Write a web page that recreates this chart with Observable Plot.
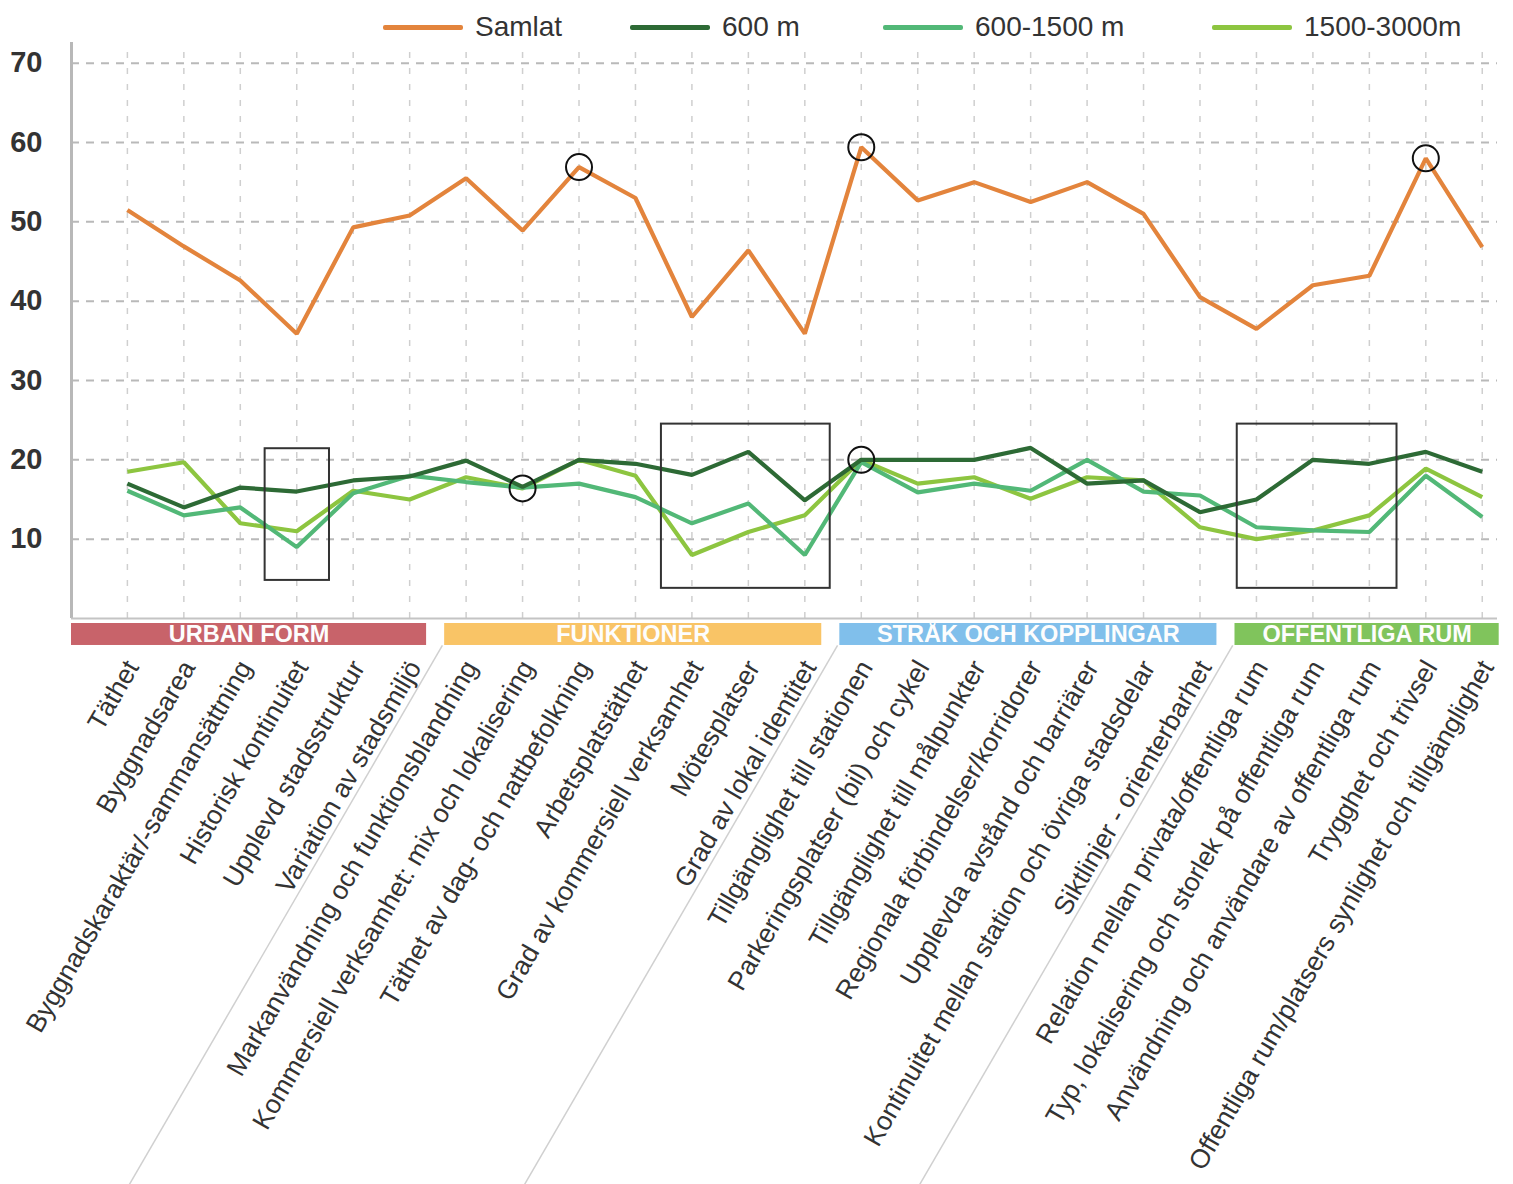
<!DOCTYPE html>
<html>
<head>
<meta charset="utf-8">
<script src="https://cdn.jsdelivr.net/npm/d3@7"></script>
<script src="https://cdn.jsdelivr.net/npm/@observablehq/plot@0.6"></script>
<style>
  html, body { margin: 0; padding: 0; background: #fff; }
  #wrap { position: relative; width: 1513px; height: 1184px; font-family: "Liberation Sans", Arial, sans-serif; }
  .leg { position: absolute; top: 10px; height: 34px; display: flex; align-items: center; font-size: 28px; color: #333; }
  .sw { width: 80px; height: 5px; border-radius: 2px; margin-right: 12px; }
  #chart { position: absolute; left: 0; top: 0; }
</style>
</head>
<body>
<div id="wrap">
  <div id="chart"></div>
  <div id="legend"></div>
</div>
<script>
// ---------------- data ----------------
const categories = [
  "Täthet", "Byggnadsarea", "Byggnadskaraktär/-sammansättning", "Historisk kontinuitet",
  "Upplevd stadsstruktur", "Variation av stadsmiljö",
  "Markanvändning och funktionsblandning", "Kommersiell verksamhet: mix och lokalisering",
  "Täthet av dag- och nattbefolkning", "Arbetsplatstäthet", "Grad av kommersiell verksamhet",
  "Mötesplatser", "Grad av lokal identitet",
  "Tillgänglighet till stationen", "Parkeringsplatser (bil) och cykel", "Tillgänglighet till målpunkter",
  "Regionala förbindelser/korridorer", "Upplevda avstånd och barriärer",
  "Kontinuitet mellan station och övriga stadsdelar", "Siktlinjer - orienterbarhet",
  "Relation mellan privata/offentliga rum", "Typ, lokalisering och storlek på offentliga rum",
  "Användning och användare av offentliga rum", "Trygghet och trivsel",
  "Offentliga rum/platsers synlighet och tillgänglighet"
];
const groupNames = ["URBAN FORM", "FUNKTIONER", "STRÅK OCH KOPPLINGAR", "OFFENTLIGA RUM"];
const groupSizes = [6, 7, 7, 5];
const groupColors = ["#c8636a", "#f9c466", "#80bfeb", "#80c45c"];

const seriesNames = ["Samlat", "600 m", "600-1500 m", "1500-3000m"];
const seriesColors = ["#e3843c", "#2d6a35", "#52b877", "#8dc540"];
const samlat =     [51.5, 46.9, 42.6, 35.9, 49.3, 50.8, 55.5, 48.9, 56.9, 53.0, 38.0, 46.4, 35.9, 59.4, 52.7, 55.0, 52.5, 55.0, 51.0, 40.5, 36.5, 42.0, 43.2, 58.0, 46.8];
const m600 =       [17.0, 14.0, 16.5, 16.0, 17.4, 17.9, 19.9, 16.6, 20.0, 19.5, 18.1, 21.0, 14.9, 20.0, 20.0, 20.0, 21.5, 17.0, 17.4, 13.4, 15.0, 20.0, 19.5, 21.0, 18.5];
const m600_1500 =  [16.1, 13.0, 14.0,  9.0, 15.8, 18.0, 17.2, 16.5, 17.0, 15.3, 12.0, 14.5,  8.0, 19.7, 15.9, 17.0, 16.1, 20.0, 16.0, 15.5, 11.5, 11.1, 10.9, 18.0, 12.8];
const m1500_3000 = [18.5, 19.7, 12.0, 11.0, 16.1, 15.0, 17.8, 16.4, 20.0, 18.0,  8.0, 10.9, 13.0, 20.0, 17.0, 17.8, 15.1, 17.8, 17.4, 11.5, 10.0, 11.1, 13.0, 18.9, 15.3];
const yTicks = [10, 20, 30, 40, 50, 60, 70];

// annotations: circled points (series index, category index) and highlight boxes (data units)
const circleSeries = [0, 0, 0, 3, 1];
const circleIndex  = [8, 13, 23, 7, 13];
const boxX1 = [2.44, 9.46, 19.66];
const boxX2 = [3.58, 12.45, 22.49];
const boxY1 = [4.8, 3.8, 3.8];
const boxY2 = [21.4, 24.5, 24.5];

// ---------------- build ----------------
const allSeries = [samlat, m600, m600_1500, m1500_3000];
const xDomain = [-0.99, 24.27];
const yMax = 72.6;

const bands = [];
let start = 0;
groupNames.forEach((g, k) => {
  const first = start, last = start + groupSizes[k] - 1;
  bands.push({
    name: g, color: groupColors[k],
    x1: k === 0 ? xDomain[0] : first - 0.38,
    x2: last + 0.3,
    sep: k < groupNames.length - 1 ? last + 0.58 : null
  });
  start += groupSizes[k];
});
const seps = bands.filter(b => b.sep !== null).map(b => b.sep);

const circles = circleSeries.map((s, k) => ({x: circleIndex[k], y: allSeries[s][circleIndex[k]]}));
const boxes = boxX1.map((_, k) => ({x1: boxX1[k], x2: boxX2[k], y1: boxY1[k], y2: boxY2[k]}));

const lineMarks = allSeries.map((vals, s) =>
  Plot.line(vals.map((v, i) => ({i, v})), {x: "i", y: "v", stroke: seriesColors[s], strokeWidth: 4.2, strokeLinejoin: "miter", strokeLinecap: "butt"})
);
// draw order: light, mid, dark, orange on top
const orderedLines = [lineMarks[3], lineMarks[2], lineMarks[1], lineMarks[0]];

const bandMarks = bands.flatMap(b => [
  Plot.rect([b], {x1: "x1", x2: "x2", y1: d => -0.63, y2: d => -3.4, fill: b.color}),
  Plot.text([b], {x: d => (d.x1 + d.x2) / 2, y: d => -2.0, text: "name", fill: "#fdfdfd", fontWeight: "bold", fontSize: 23.5})
]);

const chart = Plot.plot({
  width: 1513,
  height: 1184,
  marginTop: 42,
  marginBottom: 566,
  marginLeft: 71,
  marginRight: 16,
  x: {type: "linear", domain: xDomain, axis: null},
  y: {domain: [0, yMax], axis: null},
  style: {fontFamily: "'Liberation Sans', Arial, sans-serif", background: "#fff", color: "#333", overflow: "visible"},
  marks: [
    Plot.ruleY(yTicks, {stroke: "#b9b9b9", strokeWidth: 2, strokeDasharray: "8,7"}),
    Plot.ruleX(d3.range(categories.length), {y1: d => 0, y2: d => yMax, stroke: "#cfcfcf", strokeWidth: 1.5, strokeDasharray: "6,10"}),
    Plot.ruleX([xDomain[0]], {y1: d => 0, y2: d => yMax, stroke: "#b8b8b8", strokeWidth: 3}),
    Plot.ruleY([0], {stroke: "#c4c4c4", strokeWidth: 2}),
    Plot.axisY({ticks: yTicks, tickSize: 0, tickPadding: 29, fontSize: 29, fontWeight: "bold", fill: "#333"}),
    ...orderedLines,
    Plot.rect(boxes, {x1: "x1", x2: "x2", y1: "y1", y2: "y2", fill: "none", stroke: "#333", strokeWidth: 2}),
    Plot.dot(circles, {x: "x", y: "y", r: 13, stroke: "#111", strokeWidth: 2, fill: "none"}),
    ...bandMarks,
    Plot.link(seps, {x1: d => d, y1: d => -3.4, x2: d => d - 5.55, y2: d => -71.4, stroke: "#d0d0d0", strokeWidth: 1.5}),
    Plot.text(categories, {x: (d, i) => i, y: d => -5.6, text: d => d, rotate: -60, textAnchor: "end", fontSize: 26.5, fill: "#333", dx: 5})
  ]
});
document.getElementById("chart").appendChild(chart);

// legend
const legendLeft = [383, 630, 883, 1212];
const legend = document.getElementById("legend");
seriesNames.forEach((name, s) => {
  const item = document.createElement("div");
  item.className = "leg";
  item.style.left = legendLeft[s] + "px";
  const sw = document.createElement("div");
  sw.className = "sw";
  sw.style.background = seriesColors[s];
  const tx = document.createElement("span");
  tx.textContent = name;
  item.appendChild(sw);
  item.appendChild(tx);
  legend.appendChild(item);
});
</script>
</body>
</html>
